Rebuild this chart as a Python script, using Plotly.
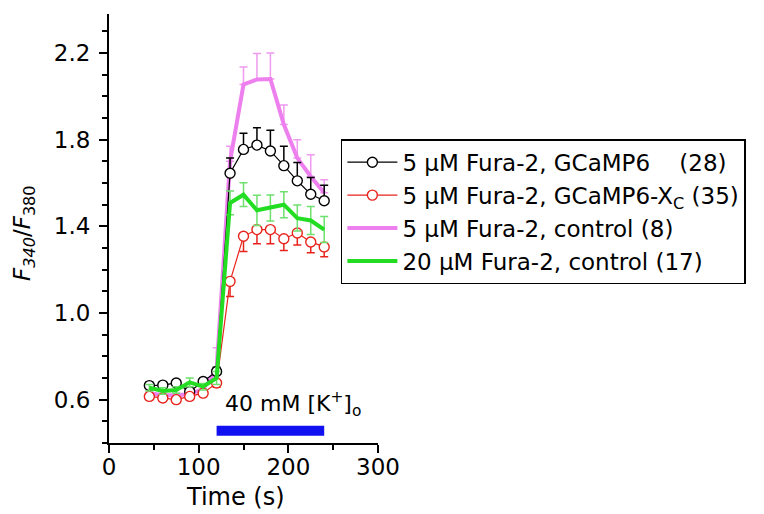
import plotly.graph_objects as go

# ---- data ----
time_s = [45, 60, 75, 90, 105, 120, 135, 150, 165, 180, 195, 210, 225, 240]

gcamp6 = [0.665, 0.667, 0.677, 0.638, 0.684, 0.730, 1.645, 1.755, 1.775, 1.748, 1.680, 1.610, 1.548, 1.518]
gcamp6_err = [0.015, 0.015, 0.015, 0.015, 0.015, 0.020, 0.070, 0.075, 0.080, 0.095, 0.090, 0.085, 0.077, 0.072]

gcamp6xc = [0.615, 0.608, 0.600, 0.615, 0.630, 0.677, 1.146, 1.354, 1.385, 1.385, 1.343, 1.369, 1.328, 1.305]
gcamp6xc_err = [0.015, 0.015, 0.015, 0.015, 0.015, 0.020, 0.070, 0.070, 0.065, 0.065, 0.055, 0.055, 0.050, 0.045]

ctrl5 = [0.630, 0.620, 0.620, 0.625, 0.650, 0.740, 1.700, 2.055, 2.078, 2.080, 1.870, 1.715, 1.630, 1.555]
ctrl5_err = [0.010, 0.010, 0.010, 0.010, 0.020, 0.100, 0.070, 0.080, 0.120, 0.120, 0.090, 0.085, 0.100, 0.060]

ctrl20 = [0.655, 0.640, 0.645, 0.680, 0.660, 0.700, 1.508, 1.546, 1.474, 1.485, 1.500, 1.438, 1.427, 1.385]
ctrl20_err = [0.015, 0.015, 0.015, 0.020, 0.015, 0.030, 0.055, 0.055, 0.070, 0.060, 0.060, 0.060, 0.065, 0.060]

stim_start, stim_end = 120, 240
stim_label = "40 mM [K<sup>+</sup>]<sub>o</sub>"

names = [
    "5 μM Fura-2, GCaMP6\u00a0\u00a0\u00a0 (28)",
    "5 μM Fura-2, GCaMP6-X<sub>C</sub> (35)",
    "5 μM Fura-2, control (8)",
    "20 μM Fura-2, control (17)",
]

FONT = "DejaVu Sans"
zeros = [0] * len(time_s)

fig = go.Figure()

# pink control (5 uM)
fig.add_trace(go.Scatter(
    x=time_s, y=ctrl5, mode="lines", name=names[2], legendrank=3,
    line=dict(color="#ee7fee", width=4),
    error_y=dict(type="data", symmetric=False, array=ctrl5_err, arrayminus=zeros,
                 color="#f09af0", thickness=1.5, width=4),
))
# black GCaMP6
fig.add_trace(go.Scatter(
    x=time_s, y=gcamp6, mode="lines+markers", name=names[0], legendrank=1,
    line=dict(color="black", width=1.2),
    marker=dict(symbol="circle", size=10, color="white", line=dict(color="black", width=1.4)),
    error_y=dict(type="data", symmetric=False, array=gcamp6_err, arrayminus=zeros,
                 color="black", thickness=1.5, width=4),
))
# red GCaMP6-Xc
fig.add_trace(go.Scatter(
    x=time_s, y=gcamp6xc, mode="lines+markers", name=names[1], legendrank=2,
    line=dict(color="#e8231c", width=1.2),
    marker=dict(symbol="circle", size=10, color="white", line=dict(color="#e8231c", width=1.4)),
    error_y=dict(type="data", symmetric=False, array=zeros, arrayminus=gcamp6xc_err,
                 color="#e8231c", thickness=1.5, width=4),
))
# green control (20 uM)
fig.add_trace(go.Scatter(
    x=time_s, y=ctrl20, mode="lines", name=names[3], legendrank=4,
    line=dict(color="#22dd22", width=4),
    error_y=dict(type="data", array=ctrl20_err, color="#6ee06e", thickness=1.5, width=4),
))

# stimulus bar
fig.add_shape(type="rect", xref="x", yref="y", x0=stim_start, x1=stim_end, y0=0.434, y1=0.48,
              fillcolor="#1010f0", line=dict(width=0), layer="above")
fig.add_annotation(x=127, y=0.582, xref="x", yref="y", text=stim_label, showarrow=False,
                   xanchor="left", yanchor="middle", font=dict(family=FONT, size=22, color="black"))

# axis titles
fig.add_annotation(x=0.472, y=-0.125, xref="paper", yref="paper", text="Time (s)", showarrow=False,
                   xanchor="center", yanchor="middle", font=dict(family=FONT, size=24, color="black"))
fig.add_annotation(x=-0.315, y=0.49, xref="paper", yref="paper", textangle=-90,
                   text="<i>F</i><sub><i>340</i></sub>/<i>F</i><sub>380</sub>", showarrow=False,
                   xanchor="center", yanchor="middle", font=dict(family=FONT, size=23, color="black"))

# page body has an 8 px margin: figure is 756x506 placed at (8, 8)
fig.update_layout(
    width=756, height=506,
    margin=dict(l=101, r=386, t=6, b=71),
    paper_bgcolor="white", plot_bgcolor="white",
    font=dict(family=FONT, color="black"),
    showlegend=True,
    legend=dict(
        x=0.862, y=0.708, xanchor="left", yanchor="top",
        bgcolor="white", bordercolor="black", borderwidth=1.5,
        font=dict(family=FONT, size=23, color="black"),
        itemwidth=50, traceorder="normal",
    ),
)
fig.update_xaxes(
    range=[0, 300], showgrid=False, zeroline=False,
    showline=True, linecolor="black", linewidth=2,
    ticks="outside", ticklen=8, tickwidth=2, tickcolor="black",
    tickvals=[0, 100, 200, 300],
    minor=dict(tickvals=[50, 150, 250], ticks="outside", ticklen=5, tickwidth=2, tickcolor="black"),
    tickfont=dict(family=FONT, size=23, color="black"),
    ticklabelstandoff=-6,
)
fig.update_yaxes(
    range=[0.4, 2.38], showgrid=False, zeroline=False,
    showline=True, linecolor="black", linewidth=2,
    ticks="outside", ticklen=8, tickwidth=2, tickcolor="black",
    tickvals=[0.6, 1.0, 1.4, 1.8, 2.2], ticktext=["0.6", "1.0", "1.4", "1.8", "2.2"],
    minor=dict(tick0=0.4, dtick=0.1, ticks="outside", ticklen=5, tickwidth=2, tickcolor="black"),
    tickfont=dict(family=FONT, size=23, color="black"),
    ticklabelstandoff=4,
)

fig.write_html("out.html")
